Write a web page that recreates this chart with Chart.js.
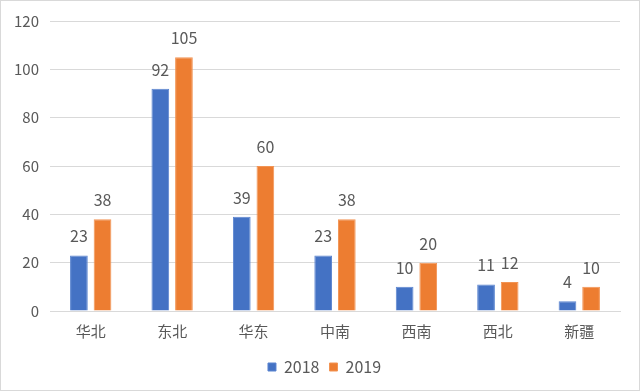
<!doctype html>
<html lang="zh">
  <head>
    <meta charset="utf-8">
    <title>2018-2019 各地区</title>
    <style>
      * { margin: 0; padding: 0; }
      body { background: #fff; }
      .chartBox {
        width: 640px;
        height: 391px;
        box-sizing: border-box;
        border: 1px solid #d9d9d9;
        position: relative;
      }
    </style>
  </head>
  <body>
    <div class="chartBox">
      <canvas id="myChart"></canvas>
    </div>
    <script src="https://cdn.jsdelivr.net/npm/chart.js/dist/chart.umd.min.js"></script>
    <script>
    // data
    const regions = ['华北', '东北', '华东', '中南', '西南', '西北', '新疆'];
    const values2018 = [23, 92, 39, 23, 10, 11, 4];
    const values2019 = [38, 105, 60, 38, 20, 12, 10];
    const yTicks = [0, 20, 40, 60, 80, 100, 120];

    const FONT = "'Noto Sans CJK SC', 'Noto Sans', sans-serif";
    const TEXT = '#595959';

    // value labels above bars
    const barLabels = {
      id: 'barLabels',
      afterDatasetsDraw(chart) {
        const { ctx } = chart;
        ctx.save();
        ctx.font = '16px ' + FONT;
        ctx.fillStyle = TEXT;
        ctx.textAlign = 'center';
        ctx.textBaseline = 'middle';
        chart.data.datasets.forEach((ds, i) => {
          chart.getDatasetMeta(i).data.forEach((bar, j) => {
            ctx.fillText(ds.data[j], bar.x, bar.y - 19);
          });
        });
        ctx.restore();
      }
    };

    // nudge the legend a little to the right, like the original
    const legendShift = {
      id: 'legendShift',
      afterLayout(chart) {
        chart.legend.left += 14;
        chart.legend.right += 14;
      }
    };

    const config = {
      type: 'bar',
      data: {
        labels: regions,
        datasets: [
          {
            label: '2018',
            data: values2018,
            backgroundColor: '#4472C4',
            borderColor: '#5b85d0',
            borderWidth: 1,
            categoryPercentage: 0.58,
            barPercentage: 0.75
          },
          {
            label: '2019',
            data: values2019,
            backgroundColor: '#ED7D31',
            borderColor: '#f29454',
            borderWidth: 1,
            categoryPercentage: 0.58,
            barPercentage: 0.75
          }
        ]
      },
      options: {
        responsive: true,
        maintainAspectRatio: false,
        animation: false,
        layout: { padding: { left: 0, right: 19, top: 6, bottom: 5 } },
        scales: {
          y: {
            min: 0,
            max: 120,
            afterBuildTicks(axis) {
              axis.ticks = yTicks.map(v => ({ value: v }));
            },
            afterFit(axis) { axis.width = 49; },
            border: { display: false },
            grid: { color: '#d9d9d9', drawTicks: false },
            ticks: { color: TEXT, font: { family: FONT, size: 15 }, padding: 11 }
          },
          x: {
            afterFit(axis) { axis.height = 38; },
            border: { color: '#d9d9d9' },
            grid: { display: false },
            ticks: { color: TEXT, font: { family: FONT, size: 15 }, padding: 3 }
          }
        },
        plugins: {
          legend: {
            position: 'bottom',
            labels: {
              color: TEXT,
              font: { family: FONT, size: 16 },
              boxWidth: 8,
              boxHeight: 8,
              padding: 10
            }
          },
          tooltip: { enabled: false }
        }
      },
      plugins: [barLabels, legendShift]
    };

    const myChart = new Chart(document.getElementById('myChart'), config);
    </script>
  </body>
</html>
